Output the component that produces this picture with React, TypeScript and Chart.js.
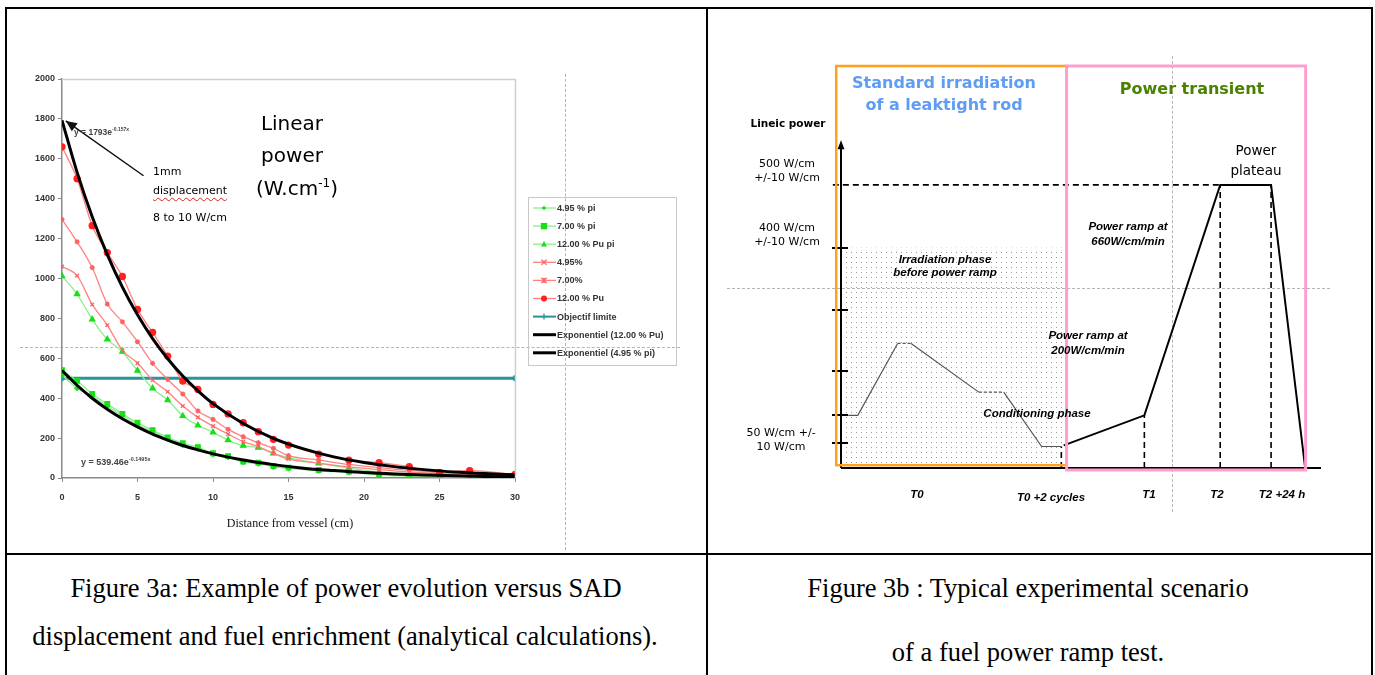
import React, { useEffect, useRef } from "react";
import { Chart, registerables } from "chart.js";

Chart.register(...registerables);

// ---------------- Figure 3a : power vs distance ----------------
const distanceCm = [0, 1, 2, 3, 4, 5, 6, 7, 8, 9, 10, 11, 12, 13, 14, 15, 17, 19, 21, 23, 25, 27, 30];
const pi495 = [515, 450, 410, 360, 312, 268, 232, 196, 165, 146, 118, 104, 80, 72, 56, 48, 36, 28, 18, 12, 8, 5, 2];
const pi700 = [540, 487, 421, 371, 321, 277, 240, 204, 174, 155, 124, 110, 82, 77, 60, 52, 40, 32, 15, 10, 7, 5, 2];
const puPi1200 = [1012, 922, 795, 695, 633, 538, 449, 391, 311, 264, 229, 190, 162, 152, 124, 102, 74, 50, 30, 18, 10, 6, 3];
const pct495 = [1060, 1014, 870, 766, 640, 576, 491, 432, 361, 304, 260, 220, 182, 157, 124, 95, 75, 56, 42, 30, 22, 17, 11];
const pct700 = [1296, 1184, 1055, 872, 783, 683, 575, 494, 421, 336, 294, 244, 207, 177, 149, 112, 90, 68, 52, 38, 28, 22, 14];
const pu1200 = [1660, 1500, 1265, 1130, 1010, 845, 730, 611, 486, 444, 369, 321, 277, 232, 194, 165, 120, 90, 77, 57, 27, 37, 18];
const objectiveDistance = [0, 30];
const objectivePower = [500, 500];
const trendDistance = [0, 1, 2, 3, 4, 5, 6, 7, 8, 9, 10, 12, 14, 16, 18, 20, 22, 24, 26, 28, 30];
const expPu1200 = [1793, 1532, 1310, 1120, 957, 818, 699, 598, 511, 437, 373, 273, 199, 146, 106, 78, 57, 42, 30, 22, 16];
const expPi495 = [539, 465, 400, 345, 297, 256, 220, 190, 163, 141, 121, 90, 67, 49, 37, 27, 20, 15, 11, 8, 6];
const powerTicks = [0, 200, 400, 600, 800, 1000, 1200, 1400, 1600, 1800, 2000];
const distanceTicks = [0, 5, 10, 15, 20, 25, 30];
const legendLabels = [
  "4.95 % pi",
  "7.00 % pi",
  "12.00 % Pu pi",
  "4.95%",
  "7.00%",
  "12.00 % Pu",
  "Objectif limite",
  "Exponentiel (12.00 % Pu)",
  "Exponentiel (4.95 % pi)",
];
// arrow annotation (data coords): tip, tail
const arrowTip = [0.25, 1790];
const arrowTail = [5.4, 1515];

// ---------------- Figure 3b : power ramp scenario (schematic units) ----------------
const irradiationTime = [1.5, 3.5, 11.8, 14.6, 28.7, 33.9, 41.8, 45.9];
const irradiationPower = [93, 93, 220, 220, 134, 134, 38, 38];
const transientTime = [46.4, 63.2, 79, 89.6, 96.7];
const transientPower = [40, 93, 500, 500, 0];
const milestoneTime = [45.9, 63.2, 79, 89.6];
const milestonePower = [38, 93, 500, 500];
const plateauLineTime = [-1.7, 79];
const plateauPower = 500;
const powerTickLevels = [389, 279, 171, 94, 44];
const standardPhaseTime = [-1, 47];
const standardPhasePower = [5, 710];
const transientPhaseTime = [47, 96.8];
const transientPhasePower = [-3.5, 710];
const preRampTime = [0, 47];
const preRampPower = [0, 389];
const powerAxisTop = 579;
const timeAxisEnd = 100;

const ARIAL = "'Liberation Sans', Arial, sans-serif";
const COMIC = "'DejaVu Sans', sans-serif";
const TIMES = "'Liberation Serif', 'Times New Roman', serif";

const pts = (xs: number[], ys: number[]) => xs.map((x, i) => ({ x, y: ys[i] }));

function drawMarker(ctx: CanvasRenderingContext2D, style: string, x: number, y: number, r: number, color: string) {
  ctx.save();
  ctx.fillStyle = color;
  ctx.strokeStyle = color;
  ctx.lineWidth = 1.3;
  ctx.beginPath();
  if (style === "circle") {
    ctx.arc(x, y, r, 0, Math.PI * 2);
    ctx.fill();
  } else if (style === "rect") {
    ctx.rect(x - r, y - r, 2 * r, 2 * r);
    ctx.fill();
  } else if (style === "triangle") {
    ctx.moveTo(x, y - r * 1.1);
    ctx.lineTo(x + r, y + r * 0.8);
    ctx.lineTo(x - r, y + r * 0.8);
    ctx.closePath();
    ctx.fill();
  } else if (style === "rectRot") {
    ctx.moveTo(x, y - r);
    ctx.lineTo(x + r, y);
    ctx.lineTo(x, y + r);
    ctx.lineTo(x - r, y);
    ctx.closePath();
    ctx.fill();
  } else if (style === "crossRot" || style === "star") {
    ctx.moveTo(x - r, y - r);
    ctx.lineTo(x + r, y + r);
    ctx.moveTo(x - r, y + r);
    ctx.lineTo(x + r, y - r);
    if (style === "star") {
      ctx.moveTo(x, y - r);
      ctx.lineTo(x, y + r);
    }
    ctx.stroke();
  } else if (style === "cross") {
    ctx.moveTo(x, y - r);
    ctx.lineTo(x, y + r);
    ctx.moveTo(x - r, y);
    ctx.lineTo(x + r, y);
    ctx.stroke();
  }
  ctx.restore();
}

const GREEN_LINE = "rgb(140,238,140)";
const GREEN_MARK = "#16e016";
const RED_LINE = "rgb(255,130,130)";
const RED_MARK = "#ff2020";
const TEAL = "#27959a";

const legendStyles = [
  { line: GREEN_LINE, mark: GREEN_MARK, style: "rectRot", r: 2.2, w: 1.3 },
  { line: GREEN_LINE, mark: GREEN_MARK, style: "rect", r: 3.2, w: 1.3 },
  { line: GREEN_LINE, mark: GREEN_MARK, style: "triangle", r: 3, w: 1.3 },
  { line: RED_LINE, mark: "#ff6060", style: "crossRot", r: 2.6, w: 1.3 },
  { line: RED_LINE, mark: "#ff6060", style: "star", r: 2.6, w: 1.3 },
  { line: RED_LINE, mark: RED_MARK, style: "circle", r: 3, w: 1.3 },
  { line: TEAL, mark: TEAL, style: "cross", r: 3, w: 2 },
  { line: "#000", mark: "", style: "", r: 0, w: 3 },
  { line: "#000", mark: "", style: "", r: 0, w: 3 },
];

const frame3aPlugin = {
  id: "frame3a",
  afterDraw(chart: any) {
    const { ctx, chartArea, scales } = chart;
    const { x, y } = scales;
    ctx.save();
    // light plot frame (top and right)
    ctx.strokeStyle = "#cfcfcf";
    ctx.lineWidth = 1.5;
    ctx.beginPath();
    ctx.moveTo(chartArea.left, chartArea.top + 0.5);
    ctx.lineTo(chartArea.right + 0.5, chartArea.top + 0.5);
    ctx.lineTo(chartArea.right + 0.5, chartArea.bottom);
    ctx.stroke();

    // arrow
    const tx = x.getPixelForValue(arrowTip[0]);
    const ty = y.getPixelForValue(arrowTip[1]);
    const sx = x.getPixelForValue(arrowTail[0]);
    const sy = y.getPixelForValue(arrowTail[1]);
    ctx.strokeStyle = "#111";
    ctx.fillStyle = "#111";
    ctx.lineWidth = 1.5;
    ctx.beginPath();
    ctx.moveTo(sx, sy);
    ctx.lineTo(tx, ty);
    ctx.stroke();
    const ang = Math.atan2(ty - sy, tx - sx);
    const L = 11;
    const W = 5;
    ctx.beginPath();
    ctx.moveTo(tx, ty);
    ctx.lineTo(tx - L * Math.cos(ang) + W * Math.sin(ang), ty - L * Math.sin(ang) - W * Math.cos(ang));
    ctx.lineTo(tx - L * Math.cos(ang) - W * Math.sin(ang), ty - L * Math.sin(ang) + W * Math.cos(ang));
    ctx.closePath();
    ctx.fill();

    // legend
    const bx = chartArea.right + 13;
    const by = 188;
    ctx.strokeStyle = "#c8c8c8";
    ctx.lineWidth = 1;
    ctx.strokeRect(bx + 0.5, by + 0.5, 148, 168);
    ctx.font = `bold 9px ${ARIAL}`;
    ctx.textBaseline = "middle";
    ctx.textAlign = "left";
    legendLabels.forEach((lab, i) => {
      const st = legendStyles[i];
      const yy = by + 11 + i * 18.1;
      ctx.strokeStyle = st.line;
      ctx.lineWidth = st.w;
      ctx.beginPath();
      ctx.moveTo(bx + 5, yy);
      ctx.lineTo(bx + 28, yy);
      ctx.stroke();
      if (st.style) drawMarker(ctx, st.style, bx + 16, yy, st.r, st.mark);
      ctx.fillStyle = "#333";
      ctx.fillText(lab, bx + 29, yy + 0.5);
    });
    ctx.restore();
  },
};

function makeDots(): CanvasPattern | null {
  const c = document.createElement("canvas");
  c.width = 5;
  c.height = 5;
  const g = c.getContext("2d")!;
  g.fillStyle = "#9a9a9a";
  g.fillRect(2, 2, 1, 1);
  const tmp = document.createElement("canvas").getContext("2d")!;
  return tmp.createPattern(c, "repeat");
}

const scheme3bPlugin = {
  id: "scheme3b",
  beforeDatasetsDraw(chart: any) {
    const { ctx, scales } = chart;
    const { x, y } = scales;
    ctx.save();
    // stippled pre-ramp area
    const pat = makeDots();
    if (pat) {
      ctx.fillStyle = pat;
      const x0 = x.getPixelForValue(preRampTime[0]);
      const x1 = x.getPixelForValue(preRampTime[1]);
      const y0 = y.getPixelForValue(preRampPower[1]);
      const y1 = y.getPixelForValue(preRampPower[0]);
      ctx.fillRect(x0, y0, x1 - x0, y1 - y0);
    }
    // axes
    const ox = x.getPixelForValue(0);
    const oy = y.getPixelForValue(0);
    const topY = y.getPixelForValue(powerAxisTop);
    const endX = x.getPixelForValue(timeAxisEnd);
    ctx.strokeStyle = "#000";
    ctx.fillStyle = "#000";
    ctx.lineWidth = 2;
    ctx.beginPath();
    ctx.moveTo(ox, oy);
    ctx.lineTo(ox, topY + 6);
    ctx.moveTo(ox, oy);
    ctx.lineTo(endX, oy);
    ctx.stroke();
    ctx.beginPath();
    ctx.moveTo(ox, topY);
    ctx.lineTo(ox - 3.5, topY + 9);
    ctx.lineTo(ox + 3.5, topY + 9);
    ctx.closePath();
    ctx.fill();
    // tick marks on power axis
    ctx.lineWidth = 2;
    powerTickLevels.forEach((lv) => {
      const py = Math.round(y.getPixelForValue(lv));
      ctx.beginPath();
      ctx.moveTo(ox - 9, py);
      ctx.lineTo(ox + 7, py);
      ctx.stroke();
    });
    ctx.restore();
  },
  afterDatasetsDraw(chart: any) {
    const { ctx, scales } = chart;
    const { x, y } = scales;
    ctx.save();
    const box = (tx: number[], ty: number[], color: string, w: number) => {
      const x0 = x.getPixelForValue(tx[0]);
      const x1 = x.getPixelForValue(tx[1]);
      const y0 = y.getPixelForValue(ty[1]);
      const y1 = y.getPixelForValue(ty[0]);
      ctx.strokeStyle = color;
      ctx.lineWidth = w;
      ctx.strokeRect(x0, y0, x1 - x0, y1 - y0);
    };
    box(standardPhaseTime, standardPhasePower, "#ffa01e", 2.5);
    box(transientPhaseTime, transientPhasePower, "#ff9fd0", 3);
    ctx.restore();
  },
};

function Figure3a() {
  const ref = useRef<HTMLCanvasElement | null>(null);
  useEffect(() => {
    if (!ref.current) return;
    const tickFont = { family: ARIAL, size: 9, weight: "bold" as const };
    const series = (data: number[], i: number) => {
      const st = legendStyles[i];
      return {
        label: legendLabels[i],
        data: pts(distanceCm, data),
        showLine: true,
        borderColor: st.line,
        borderWidth: 1.3,
        pointStyle: st.style as any,
        pointRadius: st.r,
        pointBackgroundColor: st.mark,
        pointBorderColor: st.mark,
        pointBorderWidth: 1.3,
        cubicInterpolationMode: "monotone" as const,
      };
    };
    const chart = new Chart(ref.current, {
      type: "scatter",
      data: {
        datasets: [
          {
            label: legendLabels[7],
            data: pts(trendDistance, expPu1200),
            showLine: true,
            borderColor: "#000",
            borderWidth: 3,
            pointRadius: 0,
            cubicInterpolationMode: "monotone",
          },
          {
            label: legendLabels[8],
            data: pts(trendDistance, expPi495),
            showLine: true,
            borderColor: "#000",
            borderWidth: 3,
            pointRadius: 0,
            cubicInterpolationMode: "monotone",
          },
          series(pu1200, 5),
          series(pct700, 4),
          series(pct495, 3),
          series(puPi1200, 2),
          series(pi700, 1),
          series(pi495, 0),
          {
            label: legendLabels[6],
            data: pts(objectiveDistance, objectivePower),
            showLine: true,
            borderColor: TEAL,
            borderWidth: 3,
            pointStyle: "cross",
            pointRadius: 3,
            pointBorderColor: TEAL,
          },
        ] as any,
      },
      options: {
        animation: false,
        responsive: false,
        devicePixelRatio: 1,
        layout: { padding: { left: 20, right: 190, top: 70, bottom: 20 } },
        plugins: { legend: { display: false }, tooltip: { enabled: false } },
        scales: {
          x: {
            type: "linear",
            min: 0,
            max: 30,
            afterBuildTicks: (s: any) => {
              s.ticks = distanceTicks.map((v) => ({ value: v }));
            },
            afterFit: (s: any) => {
              s.height = 54;
            },
            border: { color: "#8a8a8a", width: 1.5 },
            grid: { drawOnChartArea: false, tickLength: 4, color: "#8a8a8a" },
            ticks: { font: tickFont, color: "#333", padding: 10, maxRotation: 0, callback: (v: any) => String(v) },
          },
          y: {
            type: "linear",
            min: 0,
            max: 2000,
            afterBuildTicks: (s: any) => {
              s.ticks = powerTicks.map((v) => ({ value: v }));
            },
            afterFit: (s: any) => {
              s.width = 35;
            },
            border: { color: "#8a8a8a", width: 1.5 },
            grid: { drawOnChartArea: false, tickLength: 4, color: "#8a8a8a" },
            ticks: { font: tickFont, color: "#333", padding: 3, callback: (v: any) => String(v) },
          },
        },
      },
      plugins: [frame3aPlugin],
    });
    return () => chart.destroy();
  }, []);
  return <canvas ref={ref} width={698} height={543} style={{ position: "absolute", left: 7, top: 9 }} />;
}

function Figure3b() {
  const ref = useRef<HTMLCanvasElement | null>(null);
  useEffect(() => {
    if (!ref.current) return;
    const dashed = (xs: number[], ys: number[]) => ({
      data: pts(xs, ys),
      showLine: true,
      borderColor: "#000",
      borderWidth: 1.6,
      borderDash: [6, 4],
      pointRadius: 0,
      clip: false,
    });
    const milestoneSets = milestoneTime.map((t, i) => dashed([t, t], [0, milestonePower[i]]));
    const chart = new Chart(ref.current, {
      type: "scatter",
      data: {
        datasets: [
          {
            data: pts(transientTime, transientPower),
            showLine: true,
            borderColor: "#000",
            borderWidth: 2,
            pointRadius: 0,
            clip: false,
          },
          {
            data: pts(irradiationTime, irradiationPower),
            showLine: true,
            borderColor: "#555",
            borderWidth: 1.2,
            pointRadius: 0,
            clip: false,
            segment: {
              borderDash: (c: any) => (c.p0DataIndex === 2 || c.p0DataIndex === 4 ? [3, 2] : undefined),
            },
          },
          dashed(plateauLineTime, [plateauPower, plateauPower]),
          ...milestoneSets,
        ] as any,
      },
      options: {
        animation: false,
        responsive: false,
        devicePixelRatio: 1,
        layout: { padding: { left: 132, right: 49, top: 56, bottom: 84 } },
        plugins: { legend: { display: false }, tooltip: { enabled: false } },
        scales: {
          x: { type: "linear", min: 0, max: 100, display: false },
          y: { type: "linear", min: 0, max: 710, display: false },
        },
      },
      plugins: [scheme3bPlugin],
    });
    return () => chart.destroy();
  }, []);
  return <canvas ref={ref} width={661} height={542} style={{ position: "absolute", left: 709, top: 10 }} />;
}

function T(props: { x: number; y: number; children: any; style?: React.CSSProperties; left?: boolean }) {
  const { x, y, children, style, left } = props;
  return (
    <div
      style={{
        position: "absolute",
        left: x,
        top: y,
        transform: left ? "translate(0,-50%)" : "translate(-50%,-50%)",
        whiteSpace: "nowrap",
        lineHeight: 1,
        ...style,
      }}
    >
      {children}
    </div>
  );
}

function Line(props: { x: number; y: number; w: number; h: number; color?: string; dashed?: "h" | "v" }) {
  const { x, y, w, h, color = "#000", dashed } = props;
  if (dashed === "h")
    return <div style={{ position: "absolute", left: x, top: y, width: w, height: 0, borderTop: `1px dashed ${color}` }} />;
  if (dashed === "v")
    return <div style={{ position: "absolute", left: x, top: y, width: 0, height: h, borderLeft: `1px dashed ${color}` }} />;
  return <div style={{ position: "absolute", left: x, top: y, width: w, height: h, background: color }} />;
}

export default function App() {
  const eq: React.CSSProperties = { fontFamily: ARIAL, fontWeight: "bold", color: "#444" };
  const comic: React.CSSProperties = { fontFamily: COMIC, color: "#000" };
  const it: React.CSSProperties = { fontFamily: ARIAL, fontWeight: "bold", fontStyle: "italic", fontSize: 11.5, color: "#000" };
  const cap: React.CSSProperties = { fontFamily: TIMES, fontSize: 26.5, color: "#000" };
  const yl: React.CSSProperties = { fontFamily: COMIC, fontSize: 11, color: "#000", textAlign: "center", lineHeight: "14px" };
  return (
    <div style={{ position: "absolute", left: 0, top: 0, width: 1375, height: 675, background: "#fff", overflow: "hidden" }}>
      {/* guide lines */}
      <Line x={565} y={74} w={0} h={476} color="#b4b4b4" dashed="v" />
      <Line x={20} y={347} w={660} h={0} color="#b4b4b4" dashed="h" />
      <Line x={1172} y={56} w={0} h={456} color="#b4b4b4" dashed="v" />
      <Line x={727} y={288} w={603} h={0} color="#b4b4b4" dashed="h" />

      <Figure3a />
      <Figure3b />

      {/* table borders */}
      <Line x={5} y={7} w={1368} h={2} />
      <Line x={5} y={7} w={2} h={668} />
      <Line x={706} y={7} w={2} h={668} />
      <Line x={1371} y={7} w={2} h={668} />
      <Line x={5} y={553} w={1368} h={2} />

      {/* Figure 3a annotations */}
      <T x={292} y={123} style={{ ...comic, fontSize: 20 }}>Linear</T>
      <T x={292} y={155} style={{ ...comic, fontSize: 20 }}>power</T>
      <T x={297} y={187} style={{ ...comic, fontSize: 20 }}>
        (W.cm<sup style={{ fontSize: 12, verticalAlign: "8px" }}>-1</sup>)
      </T>
      <T x={153} y={171} left style={{ ...comic, fontSize: 11 }}>1mm</T>
      <T x={153} y={190} left style={{ ...comic, fontSize: 11, textDecoration: "underline wavy #e02020", textDecorationThickness: "1px", textUnderlineOffset: "3px" }}>
        displacement
      </T>
      <T x={153} y={217} left style={{ ...comic, fontSize: 11 }}>8 to 10 W/cm</T>
      <T x={74} y={132} left style={{ ...eq, fontSize: 8.5 }}>
        y = 1793e<sup style={{ fontSize: 5, verticalAlign: "4px" }}>-0.157x</sup>
      </T>
      <T x={81} y={462} left style={{ ...eq, fontSize: 9 }}>
        y = 539.46e<sup style={{ fontSize: 5.5, verticalAlign: "4px" }}>-0.1495x</sup>
      </T>
      <T x={290} y={523} style={{ fontFamily: TIMES, fontSize: 12, color: "#111" }}>Distance from vessel (cm)</T>

      {/* Figure 3b annotations */}
      <T x={788} y={123} style={{ ...comic, fontSize: 10.5, fontWeight: "bold" }}>Lineic power</T>
      <T x={787} y={171} style={yl}>
        500 W/cm
        <br />
        +/-10 W/cm
      </T>
      <T x={787} y={235} style={yl}>
        400 W/cm
        <br />
        +/-10 W/cm
      </T>
      <T x={781} y={440} style={yl}>
        50 W/cm +/-
        <br />
        10 W/cm
      </T>
      <T x={944} y={94} style={{ ...comic, fontSize: 16, fontWeight: "bold", color: "#5f9cf4", textAlign: "center", lineHeight: "22px" }}>
        Standard irradiation
        <br />
        of a leaktight rod
      </T>
      <T x={1192} y={89} style={{ ...comic, fontSize: 16, fontWeight: "bold", color: "#4a8200" }}>Power transient</T>
      <T x={1256} y={160} style={{ ...comic, fontSize: 13.5, textAlign: "center", lineHeight: "20px" }}>
        Power
        <br />
        plateau
      </T>
      <T x={1128} y={234} style={{ ...it, textAlign: "center", lineHeight: "15px" }}>
        Power ramp at
        <br />
        660W/cm/min
      </T>
      <T x={945} y={266} style={{ ...it, textAlign: "center", lineHeight: "13px" }}>
        Irradiation phase
        <br />
        before power ramp
      </T>
      <T x={1088} y={343} style={{ ...it, textAlign: "center", lineHeight: "15px" }}>
        Power ramp at
        <br />
        200W/cm/min
      </T>
      <T x={1037} y={414} style={it}>Conditioning phase</T>
      <T x={917} y={495} style={it}>T0</T>
      <T x={1051} y={498} style={it}>T0 +2 cycles</T>
      <T x={1149} y={495} style={it}>T1</T>
      <T x={1217} y={495} style={it}>T2</T>
      <T x={1282} y={495} style={it}>T2 +24 h</T>

      {/* captions */}
      <T x={346} y={588} style={cap}>Figure 3a: Example of power evolution versus SAD</T>
      <T x={345} y={636} style={cap}>displacement and fuel enrichment (analytical calculations).</T>
      <T x={1028} y={588} style={cap}>Figure 3b : Typical experimental scenario</T>
      <T x={1028} y={652} style={cap}>of a fuel power ramp test.</T>
    </div>
  );
}
